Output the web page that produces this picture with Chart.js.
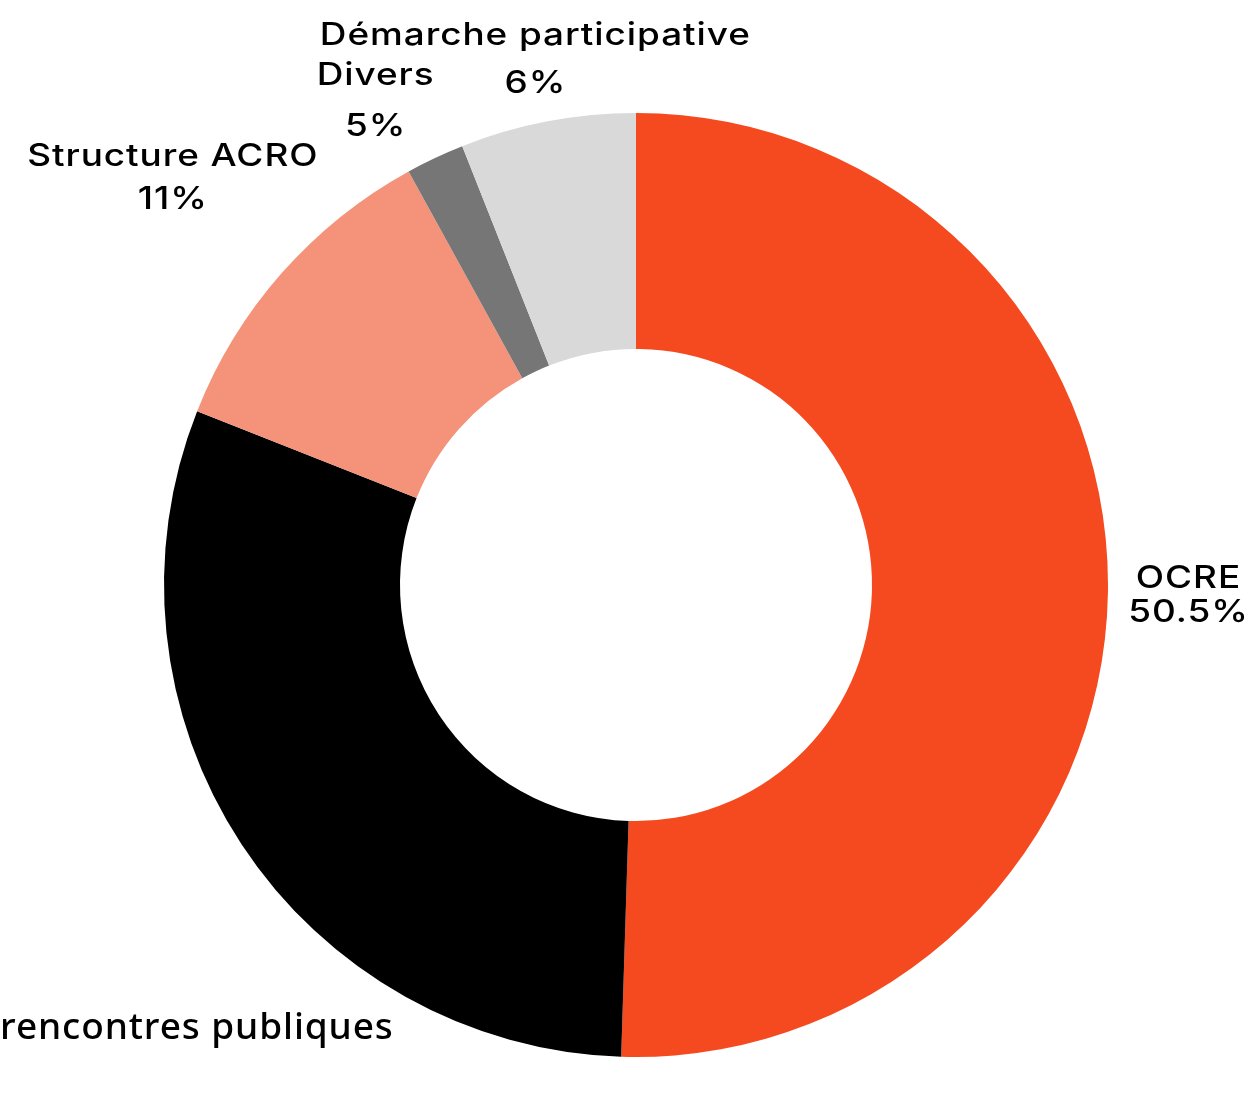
<!DOCTYPE html>
<html>
<head>
<meta charset="utf-8">
<script src="https://cdn.jsdelivr.net/npm/chart.js@4/dist/chart.umd.min.js"></script>
<style>
  html, body { margin: 0; padding: 0; background: #ffffff; }
  #wrap { width: 1246px; height: 1099px; position: relative; }
</style>
</head>
<body>
<div id="wrap"><canvas id="c" width="1246" height="1099"></canvas></div>
<script>
// ---- data ----
const categories = ['OCRE', 'rencontres publiques', 'Structure ACRO', 'Divers', 'Démarche participative'];
const values = [50.5, 30.5, 11, 2, 6];
const valueLabels = ['50.5%', '', '11%', '5%', '6%'];
const colors = ['#F54A1F', '#000000', '#F4937A', '#767676', '#D9D9D9'];

// ---- label styling ----
const LABEL_FONT = '500 31px Inter';
const LABEL_SPACING = '0.8px';
const H_SCALE = 1.19;          // wide geometric look
const CAP = 22;
const lineGaps = [34, 42, 43, 51, 48];
const LABEL_GAP = 20;
const angleNudge = [0, 0, 0, -3, 0];
// the "rencontres publiques" label sits lower-left, drawn right-aligned from its top-right corner
const labelOverrides = { 1: { font: '500 37px "Noto Sans"', spacing: '0.9px', cap: 26, cornerAngleDeg: 209.5 } };

const outLabels = {
  id: 'outLabels',
  afterDatasetsDraw(chart) {
    const ctx = chart.ctx;
    const meta = chart.getDatasetMeta(0);
    ctx.save();
    ctx.fillStyle = '#000000';
    ctx.textBaseline = 'alphabetic';
    meta.data.forEach((arc, i) => {
      const p = arc.getProps(['x', 'y', 'startAngle', 'endAngle', 'outerRadius'], true);
      const target = p.outerRadius + LABEL_GAP;
      const ov = labelOverrides[i];
      const lines = [categories[i]];
      if (valueLabels[i]) lines.push(valueLabels[i]);
      if (ov) {
        ctx.font = ov.font;
        ctx.letterSpacing = ov.spacing;
        const a = (ov.cornerAngleDeg - 90) * Math.PI / 180;
        const cx = p.x + target * Math.cos(a);
        const cy = p.y + target * Math.sin(a);
        ctx.textAlign = 'right';
        lines.forEach((l, k) => ctx.fillText(l, cx, cy + ov.cap + k * lineGaps[i]));
        return;
      }
      ctx.font = LABEL_FONT;
      ctx.letterSpacing = LABEL_SPACING;
      const w = Math.max(...lines.map(l => ctx.measureText(l).width)) * H_SCALE;
      const lh = lineGaps[i];
      const h = CAP + lh * (lines.length - 1);
      const mid = (p.startAngle + p.endAngle) / 2 + angleNudge[i] * Math.PI / 180;
      const dx = Math.cos(mid), dy = Math.sin(mid);
      let r = 0, bx = p.x, by = p.y;
      for (; r < 2000; r += 0.5) {
        bx = p.x + r * dx; by = p.y + r * dy;
        const nx = Math.min(Math.max(p.x, bx - w / 2), bx + w / 2);
        const ny = Math.min(Math.max(p.y, by - h / 2), by + h / 2);
        if (Math.hypot(nx - p.x, ny - p.y) >= target) break;
      }
      ctx.textAlign = 'center';
      const top = by - h / 2;
      lines.forEach((l, k) => {
        ctx.save();
        ctx.translate(bx, top + CAP + k * lh);
        ctx.scale(H_SCALE, 1);
        ctx.fillText(l, 0, 0);
        ctx.restore();
      });
    });
    ctx.restore();
  }
};

new Chart(document.getElementById('c'), {
  type: 'doughnut',
  data: {
    labels: categories,
    datasets: [{
      data: values,
      backgroundColor: colors,
      borderWidth: 0,
      hoverOffset: 0
    }]
  },
  options: {
    responsive: false,
    animation: false,
    cutout: '50%',
    layout: { padding: { left: 164, right: 138, top: 113, bottom: 42 } },
    plugins: {
      legend: { display: false },
      tooltip: { enabled: false }
    }
  },
  plugins: [outLabels]
});
</script>
</body>
</html>
